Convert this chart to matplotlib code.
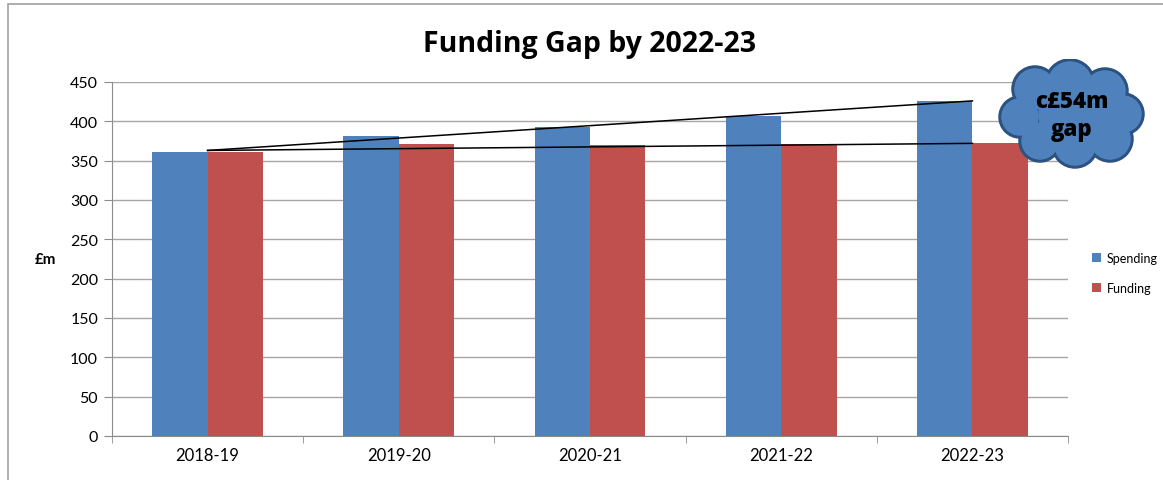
import numpy as np
import matplotlib.pyplot as plt
from matplotlib.patches import Circle, Rectangle

years = ["2018-19", "2019-20", "2020-21", "2021-22", "2022-23"]
spending = [361, 381, 393, 407, 426]
funding = [361, 371, 370, 371, 372]
gap_label = "c£54m\ngap"

BLUE = "#4F81BD"
RED = "#C0504D"

plt.rcParams["font.family"] = ["Lato", "DejaVu Sans"]

fig = plt.figure(figsize=(11.63, 4.81), dpi=100)

# outer chart frame (left and top edges visible)
fig.patches.append(Rectangle((8 / 1163, -0.1), 1.2, 1.1 - 5 / 481,
                             transform=fig.transFigure, fill=False,
                             edgecolor="#A0A0A0", linewidth=1.2))

ax = fig.add_axes([112 / 1163, 44 / 481, 956 / 1163, 354 / 481])
x = np.arange(len(years))
w = 0.29
ax.bar(x - w / 2, spending, w, color=BLUE, label="Spending", zorder=3)
ax.bar(x + w / 2, funding, w, color=RED, label="Funding", zorder=3)

# trend lines showing the widening gap
ax.plot([0, x[-1]], [spending[0] + 2, spending[-1]], color="black", lw=1.1, zorder=4)
ax.plot([0, x[-1]], [funding[0] + 2, funding[-1]], color="black", lw=1.1, zorder=4)

ax.set_xlim(-0.5, len(years) - 0.5)
ax.set_ylim(0, 450)
ax.set_yticks(range(0, 451, 50))
ax.yaxis.grid(True, color="#A6A6A6", lw=1)
ax.set_axisbelow(True)
for s in ["top", "right"]:
    ax.spines[s].set_visible(False)
ax.spines["left"].set_color("#8C8C8C")
ax.spines["bottom"].set_color("#8C8C8C")

ax.set_xticks(x)
ax.set_xticklabels(years, fontsize=12)
ax.tick_params(axis="x", length=0, pad=8)
ax.set_xticks(np.arange(-0.5, len(years)), minor=True)
ax.tick_params(axis="x", which="minor", length=5, color="#8C8C8C")
ax.tick_params(axis="y", length=6, color="#8C8C8C", labelsize=11.5, pad=4)

ax.set_ylabel("£m", rotation=0, fontsize=11, fontweight="bold", va="center")
ax.yaxis.set_label_coords(-0.07, 0.5)

ax.set_title("Funding Gap by 2022-23", fontsize=20.5, fontweight="bold", pad=22,
             family=["Open Sans", "DejaVu Sans"])

ax.legend(loc="center left", bbox_to_anchor=(1.025, 0.46), frameon=False,
          fontsize=9, handlelength=0.7, handleheight=0.7, labelspacing=1.45,
          borderaxespad=0, borderpad=0, handletextpad=0.5)

# cloud callout
cax = fig.add_axes([995 / 1163, 1 - 170 / 481, 155 / 1163, 110 / 481])
cax.set_xlim(0, 155)
cax.set_ylim(0, 110)
cax.set_aspect("equal")
cax.axis("off")
puffs = [(40, 80, 22), (75, 85, 24), (110, 78, 22), (128, 55, 20), (115, 30, 22),
         (80, 24, 22), (45, 28, 20), (25, 52, 20), (77, 55, 35)]
for cx, cy, r in puffs:
    cax.add_patch(Circle((cx, cy), r, facecolor=BLUE, edgecolor="#2C5282", lw=2.5, zorder=1))
for cx, cy, r in puffs:
    cax.add_patch(Circle((cx, cy), r - 1.3, facecolor=BLUE, edgecolor="none", zorder=2))
cax.text(77, 54, gap_label, ha="center", va="center", fontsize=16,
         fontweight="heavy", linespacing=1.25, zorder=3,
         family=["Open Sans", "DejaVu Sans"])

fig.savefig("out.png", dpi=100)
